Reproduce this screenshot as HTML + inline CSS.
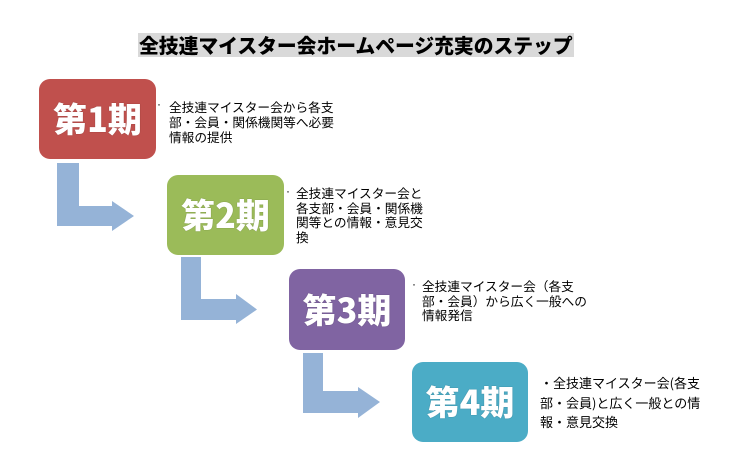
<!DOCTYPE html>
<html><head><meta charset="utf-8">
<style>
html,body{margin:0;padding:0;background:#fff;}
body{width:743px;height:471px;position:relative;overflow:hidden;font-family:"Liberation Sans","Noto Sans CJK JP",sans-serif;}
.title{position:absolute;left:138px;top:33px;width:436px;height:24px;background:#d9d9d9;}
.title span{position:absolute;left:1px;top:0;font-family:"Noto Sans CJK JP",sans-serif;font-weight:900;font-size:19.8px;line-height:24px;color:#000;white-space:nowrap;}
.box{position:absolute;width:117px;height:80px;border-radius:11px;display:flex;align-items:center;justify-content:center;}
.box span{font-family:"Noto Sans CJK JP",sans-serif;font-weight:900;font-size:34px;color:#fff;line-height:1;text-shadow:0 0 1px rgba(0,0,0,0.35);white-space:nowrap;margin-top:-2px;}
.t{position:absolute;font-family:"Noto Sans CJK JP",sans-serif;font-size:12.7px;color:#000;white-space:nowrap;}
.dot{position:absolute;font-family:"Liberation Sans",sans-serif;font-size:12px;color:#000;}
</style></head>
<body>
<div class="title"><span>全技連マイスター会ホームページ充実のステップ</span></div>

<svg width="743" height="471" style="position:absolute;left:0;top:0">
<polygon fill="#95b3d7" points="57,163 79,163 79,206 112,206 112,201 134,216 112,231 112,226 57,226"/>
<polygon fill="#95b3d7" points="181,257 201,257 201,299 236,299 236,294 257,309.5 236,324 236,320 181,320"/>
<polygon fill="#95b3d7" points="303,353 323,353 323,391 358,391 358,387 380,402 358,418 358,413 303,413"/>
</svg>

<div class="box" style="left:39px;top:79px;background:#c0504d;"><span>第1期</span></div>
<div class="box" style="left:167px;top:175px;background:#9bbb59;"><span>第2期</span></div>
<div class="box" style="left:289px;top:269px;width:116px;height:81px;background:#8064a2;"><span>第3期</span></div>
<div class="box" style="left:412px;top:362px;width:116px;background:#4bacc6;"><span>第4期</span></div>

<div class="dot" style="left:157px;top:97px;">·</div>
<div class="t" style="left:169px;top:99px;line-height:15px;">全技連マイスター会から各支<br>部・会員・関係機関等へ必要<br>情報の提供</div>

<div class="dot" style="left:286px;top:184px;">·</div>
<div class="t" style="left:296px;top:186px;line-height:14.7px;">全技連マイスター会と<br>各支部・会員・関係機<br>関等との情報・意見交<br>換</div>

<div class="dot" style="left:412px;top:277px;">·</div>
<div class="t" style="left:422px;top:279px;line-height:14.6px;">全技連マイスター会（各支<br>部・会員）から広く一般への<br>情報発信</div>

<div class="t" style="left:540px;top:373px;font-size:13px;line-height:19.5px;">・全技連マイスター会(各支<br>部・会員)と広く一般との情<br>報・意見交換</div>
</body></html>
